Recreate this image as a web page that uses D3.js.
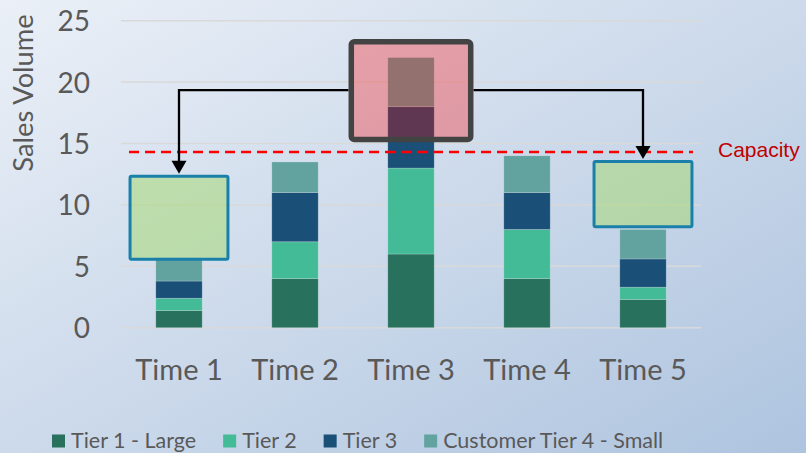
<!DOCTYPE html>
<html>
<head>
<meta charset="utf-8">
<script src="https://cdn.jsdelivr.net/npm/d3@7/dist/d3.min.js"></script>
<style>
  html, body { margin: 0; padding: 0; }
  body { width: 806px; height: 453px; overflow: hidden; }
  svg { display: block; }
</style>
</head>
<body>
<svg id="chart" width="806" height="453"></svg>
<script>
// ---------- data ----------
const categories = ["Time 1", "Time 2", "Time 3", "Time 4", "Time 5"];
const seriesNames = ["Tier 1 - Large", "Tier 2", "Tier 3", "Customer Tier 4 - Small"];
const tier1 = [1.4, 4, 6, 4, 2.3];
const tier2 = [1.0, 3, 7, 4, 1.0];
const tier3 = [1.4, 4, 5, 3, 2.3];
const tier4 = [1.9, 2.5, 4, 3, 2.4];
const yTicks = [0, 5, 10, 15, 20, 25];
const capacity = 14.3;
const capacityLabel = "Capacity";
const yTitle = "Sales Volume";
// annotation boxes: category and value range they span
const overloadBox = { cat: "Time 3", from: 15.1, to: 23.5 };
const targetBoxes = [
  { cat: "Time 1", from: 5.45, to: 12.45 },
  { cat: "Time 5", from: 8.1, to: 13.65 }
];
const arrowLevel = 19.35;

// ---------- styles ----------
const colors = ["#27715d", "#43bb97", "#1a4f77", "#63a39f"];
const textColor = "#595959";
const font = "Lato, 'Open Sans', sans-serif";

const svg = d3.select("#chart");
const W = 806, H = 453;

// background gradient
const defs = svg.append("defs");
const grad = defs.append("linearGradient").attr("id", "bg")
  .attr("x1", "0").attr("y1", "0").attr("x2", "1").attr("y2", "1");
grad.append("stop").attr("offset", "0%").attr("stop-color", "#ebf0f7");
grad.append("stop").attr("offset", "100%").attr("stop-color", "#aec4df");
svg.append("rect").attr("width", W).attr("height", H).attr("fill", "url(#bg)");

// scales
const x = d3.scaleBand().domain(categories).range([121, 701])
  .paddingInner(0.6).paddingOuter(0.3);
const y = d3.scaleLinear().domain([0, 25]).range([327.7, 20.7]);

// gridlines
svg.append("g").selectAll("line").data(yTicks).join("line")
  .attr("x1", 121).attr("x2", 701)
  .attr("y1", d => y(d)).attr("y2", d => y(d))
  .attr("stroke", "#d9d9d9").attr("stroke-width", 1.5);

// y axis labels
const yAxis = d3.axisLeft(y).tickValues(yTicks).tickSize(0).tickPadding(0);
const yg = svg.append("g").attr("transform", "translate(90,0)").call(yAxis);
yg.select(".domain").remove();
yg.selectAll("text").attr("fill", textColor).attr("font-family", font)
  .attr("font-size", 28).attr("dy", "0.36em");

// y title
svg.append("text")
  .attr("transform", "translate(33,93) rotate(-90)")
  .attr("text-anchor", "middle")
  .attr("fill", textColor).attr("font-family", font).attr("font-size", 27.3)
  .text(yTitle);

// x axis labels
const xAxis = d3.axisBottom(x).tickSize(0).tickPadding(0);
const xg = svg.append("g").attr("transform", "translate(0,379.5)").call(xAxis);
xg.select(".domain").remove();
xg.selectAll("text").attr("fill", textColor).attr("font-family", font)
  .attr("font-size", 29).attr("dy", "0");

// stacked bars
const table = categories.map((c, i) => ({
  cat: c, s0: tier1[i], s1: tier2[i], s2: tier3[i], s3: tier4[i]
}));
const stack = d3.stack().keys(["s0", "s1", "s2", "s3"])(table);
svg.append("g").selectAll("g").data(stack).join("g")
  .attr("fill", (d, i) => colors[i])
  .selectAll("rect").data(d => d).join("rect")
  .attr("x", d => x(d.data.cat))
  .attr("width", x.bandwidth())
  .attr("y", d => y(d[1]))
  .attr("height", d => y(d[0]) - y(d[1]))
  .attr("stroke", "rgba(255,255,255,0.25)").attr("stroke-width", 0.8);

// capacity line
svg.append("line")
  .attr("x1", 129).attr("x2", 693)
  .attr("y1", y(capacity)).attr("y2", y(capacity))
  .attr("stroke", "#ff0000").attr("stroke-width", 2.5)
  .attr("stroke-dasharray", "10,6");
svg.append("text")
  .attr("x", 718).attr("y", y(capacity) + 5)
  .attr("fill", "#c00000").attr("font-family", "'Liberation Sans', Arial, sans-serif")
  .attr("font-size", 21).text(capacityLabel);

// arrows (drawn under boxes)
const cx = c => x(c) + x.bandwidth() / 2;
const ovW = x.step() * 1.077;
const tgW = x.step() * 0.87;
const ovLeft = cx(overloadBox.cat) - ovW / 2;
const ovRight = cx(overloadBox.cat) + ovW / 2;
const ay = y(arrowLevel);
const arrowG = svg.append("g");
targetBoxes.forEach(b => {
  const startX = cx(b.cat) < cx(overloadBox.cat) ? ovLeft : ovRight;
  const tipY = y(b.to) - 1;
  arrowG.append("path")
    .attr("d", `M${startX},${ay} H${cx(b.cat)} V${tipY - 12}`)
    .attr("fill", "none").attr("stroke", "#000").attr("stroke-width", 2.3);
  arrowG.append("path")
    .attr("d", `M${cx(b.cat) - 7.5},${tipY - 13} L${cx(b.cat) + 7.5},${tipY - 13} L${cx(b.cat)},${tipY} Z`)
    .attr("fill", "#000");
});

// overload box
svg.append("rect")
  .attr("x", ovLeft + 2.75).attr("width", ovW - 5.5)
  .attr("y", y(overloadBox.to) + 2.75)
  .attr("height", y(overloadBox.from) - y(overloadBox.to) - 5.5)
  .attr("rx", 3)
  .attr("fill", "rgba(255,0,0,0.3)")
  .attr("stroke", "#434343").attr("stroke-width", 5.5);

// target boxes
svg.append("g").selectAll("rect").data(targetBoxes).join("rect")
  .attr("x", d => cx(d.cat) - tgW / 2 + 1.5).attr("width", tgW - 3)
  .attr("y", d => y(d.to) + 1.5)
  .attr("height", d => y(d.from) - y(d.to) - 3)
  .attr("rx", 1.5)
  .attr("fill", "rgba(168,216,118,0.55)")
  .attr("stroke", "#1a80a9").attr("stroke-width", 3);

// legend
const leg = svg.append("g");
let lx = 52;
seriesNames.forEach((name, i) => {
  leg.append("rect").attr("x", lx).attr("y", 434.5).attr("width", 13).attr("height", 13)
    .attr("fill", colors[i]);
  const t = leg.append("text").attr("x", lx + 19).attr("y", 447.5)
    .attr("fill", textColor).attr("font-family", font).attr("font-size", 21.5)
    .text(name);
  lx += 19 + t.node().getComputedTextLength() + 27;
});
</script>
</body>
</html>
